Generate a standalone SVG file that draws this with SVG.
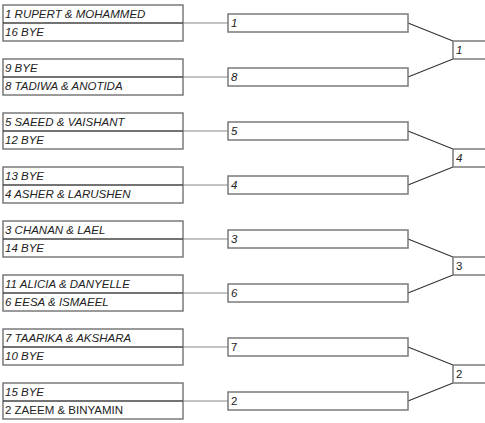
<svg xmlns="http://www.w3.org/2000/svg" width="485" height="423" viewBox="0 0 485 423">
<style>
.bx{fill:#fff;stroke:#7a7a7a;stroke-width:1.5}
.dv{stroke:#444;stroke-width:1.5}
.t{font-family:"Liberation Sans",Arial,sans-serif;font-size:11.5px;fill:#222}
.i{font-style:italic}
.h{stroke:#8a8a8a;stroke-width:1.2;fill:none}
.d{stroke:#333;stroke-width:1.1;fill:none}
</style>
<g id="connectors">
<path class="h" d="M183 23H228M183 77H228M183 131H228M183 185H228M183 239H228M183 293H228M183 347H228M183 401H228"/>
<path class="d" d="M408 23L453 41M408 77L453 59M408 131L453 149M408 185L453 167M408 239L453 257M408 293L453 275M408 347L453 365M408 401L453 383"/>
</g>
<g id="m1"><rect class="bx" x="3" y="5" width="180" height="36"/><line class="dv" x1="3" y1="23" x2="183" y2="23"/><text class="t i" x="5" y="18">1 RUPERT &amp; MOHAMMED</text><text class="t i" x="5" y="36">16 BYE</text></g>
<g id="m2"><rect class="bx" x="3" y="59" width="180" height="36"/><line class="dv" x1="3" y1="77" x2="183" y2="77"/><text class="t i" x="5" y="72">9 BYE</text><text class="t i" x="5" y="90">8 TADIWA &amp; ANOTIDA</text></g>
<g id="m3"><rect class="bx" x="3" y="113" width="180" height="36"/><line class="dv" x1="3" y1="131" x2="183" y2="131"/><text class="t i" x="5" y="126">5 SAEED &amp; VAISHANT</text><text class="t i" x="5" y="144">12 BYE</text></g>
<g id="m4"><rect class="bx" x="3" y="167" width="180" height="36"/><line class="dv" x1="3" y1="185" x2="183" y2="185"/><text class="t i" x="5" y="180">13 BYE</text><text class="t i" x="5" y="198">4 ASHER &amp; LARUSHEN</text></g>
<g id="m5"><rect class="bx" x="3" y="221" width="180" height="36"/><line class="dv" x1="3" y1="239" x2="183" y2="239"/><text class="t i" x="5" y="234">3 CHANAN &amp; LAEL</text><text class="t i" x="5" y="252">14 BYE</text></g>
<g id="m6"><rect class="bx" x="3" y="275" width="180" height="36"/><line class="dv" x1="3" y1="293" x2="183" y2="293"/><text class="t i" x="5" y="288">11 ALICIA &amp; DANYELLE</text><text class="t i" x="5" y="306">6 EESA &amp; ISMAEEL</text></g>
<g id="m7"><rect class="bx" x="3" y="329" width="180" height="36"/><line class="dv" x1="3" y1="347" x2="183" y2="347"/><text class="t i" x="5" y="342">7 TAARIKA &amp; AKSHARA</text><text class="t i" x="5" y="360">10 BYE</text></g>
<g id="m8"><rect class="bx" x="3" y="383" width="180" height="36"/><line class="dv" x1="3" y1="401" x2="183" y2="401"/><text class="t i" x="5" y="396">15 BYE</text><text class="t" x="5" y="414">2 ZAEEM &amp; BINYAMIN</text></g>
<g id="r2a"><rect class="bx" x="228" y="14" width="180" height="18"/><text class="t i" x="231" y="27">1</text></g>
<g id="r2b"><rect class="bx" x="228" y="68" width="180" height="18"/><text class="t i" x="231" y="81">8</text></g>
<g id="r2c"><rect class="bx" x="228" y="122" width="180" height="18"/><text class="t i" x="231" y="135">5</text></g>
<g id="r2d"><rect class="bx" x="228" y="176" width="180" height="18"/><text class="t i" x="231" y="189">4</text></g>
<g id="r2e"><rect class="bx" x="228" y="230" width="180" height="18"/><text class="t i" x="231" y="243">3</text></g>
<g id="r2f"><rect class="bx" x="228" y="284" width="180" height="18"/><text class="t i" x="231" y="297">6</text></g>
<g id="r2g"><rect class="bx" x="228" y="338" width="180" height="18"/><text class="t" x="231" y="351">7</text></g>
<g id="r2h"><rect class="bx" x="228" y="392" width="180" height="18"/><text class="t" x="231" y="405">2</text></g>
<g id="r3a"><rect class="bx" x="453" y="41" width="60" height="18"/><text class="t i" x="456" y="54">1</text></g>
<g id="r3b"><rect class="bx" x="453" y="149" width="60" height="18"/><text class="t i" x="456" y="162">4</text></g>
<g id="r3c"><rect class="bx" x="453" y="257" width="60" height="18"/><text class="t" x="456" y="270">3</text></g>
<g id="r3d"><rect class="bx" x="453" y="365" width="60" height="18"/><text class="t" x="456" y="378">2</text></g>
</svg>
